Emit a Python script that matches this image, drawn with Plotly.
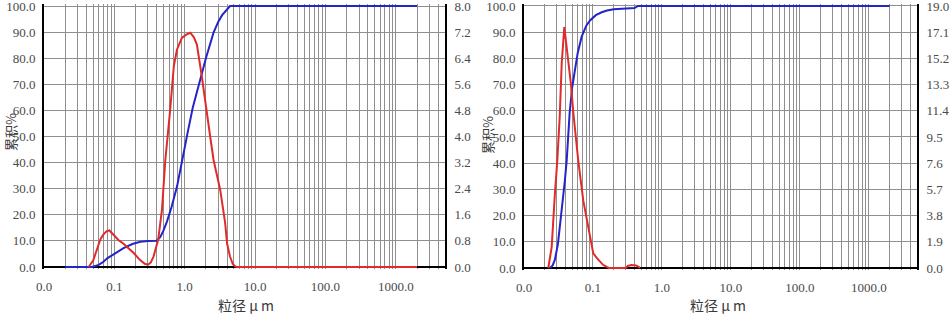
import math
import plotly.graph_objects as go

# ---- particle-size data (sizes in µm) ----
# Sample A
a_cum_size = [0.02, 0.048, 0.06, 0.07, 0.08, 0.1, 0.135, 0.18, 0.234, 0.3, 0.4, 0.45, 0.5, 0.56,
              0.65, 0.78, 0.9, 1.0, 1.1, 1.3, 1.66, 2.0, 2.56, 3.0, 3.4, 4.0, 4.4, 2000]
a_cum_pct = [0, 0, 0.8, 2.0, 3.4, 5.0, 7.2, 8.8, 9.7, 10.0, 10.1, 11.5, 14.0, 17.5,
             23.0, 31.0, 39.0, 45.0, 51.5, 61.0, 72.0, 80.0, 89.7, 94.0, 96.5, 99.0, 100.0, 100.0]

a_diff_size = [0.043, 0.05, 0.057, 0.063, 0.07, 0.078, 0.085, 0.095, 0.105, 0.115, 0.13, 0.15,
               0.19, 0.23, 0.27, 0.30, 0.33, 0.36, 0.42, 0.475, 0.53, 0.62, 0.70, 0.775, 0.91,
               1.05, 1.2, 1.35, 1.49, 1.75, 2.06, 2.3, 2.57, 2.9, 3.19, 3.75, 4.0, 4.4, 4.8,
               5.2, 5.6, 2000]
a_diff_pct = [0, 0.20, 0.56, 0.84, 1.00, 1.10, 1.12, 1.02, 0.90, 0.82, 0.74, 0.62,
              0.42, 0.22, 0.10, 0.07, 0.14, 0.32, 0.84, 1.76, 3.28, 4.80, 6.16, 6.66, 7.02,
              7.12, 7.18, 7.04, 6.82, 5.84, 4.82, 4.00, 3.28, 2.72, 2.37, 1.36, 0.72, 0.32, 0.10,
              0.02, 0, 0]

# Sample B
b_cum_size = [0.0238, 0.026, 0.028, 0.031, 0.033, 0.036, 0.039, 0.0416, 0.046, 0.05, 0.055,
              0.06, 0.0686, 0.08, 0.0906, 0.11, 0.134, 0.16, 0.2, 0.3, 0.4, 0.45, 2000]
b_cum_pct = [0, 1.0, 3.1, 9.0, 15.6, 24.0, 33.0, 41.0, 59.5, 69.0, 76.0,
             82.0, 88.3, 92.5, 94.5, 96.5, 97.6, 98.3, 98.8, 99.0, 99.2, 100.0, 100.0]

b_diff_size = [0.0225, 0.0252, 0.028, 0.0304, 0.033, 0.0352, 0.0384, 0.041, 0.0438, 0.048,
               0.0518, 0.0612, 0.0724, 0.0855, 0.095, 0.101, 0.115, 0.126, 0.14, 0.161, 0.17,
               0.30, 0.32, 0.36, 0.42, 0.46, 0.48, 2000]
b_diff_pct = [0, 1.52, 5.32, 7.79, 11.02, 14.82, 17.48, 16.34, 15.2, 13.3,
              11.3, 7.79, 4.88, 2.96, 1.71, 1.06, 0.70, 0.48, 0.23, 0.06, 0,
              0, 0.15, 0.21, 0.19, 0.08, 0]

# axis labels
x_tick_vals = [0.01, 0.1, 1, 10, 100, 1000]
x_tick_text = ["0.0", "0.1", "1.0", "10.0", "100.0", "1000.0"]
cum_ticks = [0, 10, 20, 30, 40, 50, 60, 70, 80, 90, 100]
a_diff_ticks = [0.0, 0.8, 1.6, 2.4, 3.2, 4.0, 4.8, 5.6, 6.4, 7.2, 8.0]
b_diff_ticks = [0.0, 1.9, 3.8, 5.7, 7.6, 9.5, 11.4, 13.3, 15.2, 17.1, 19.0]

W, H = 951, 326
X_MAX = 5000
PAD = 0.6  # small headroom (in % units) so lines at 0 and 100 are not clipped

RED = "#e02b2b"
BLUE = "#2424c8"
GRID = "#8f8f8f"
TICK_FONT = dict(family="Liberation Serif", size=13, color="#4a4a4a")
CJK_FONT = dict(family="Noto Sans CJK SC", size=14, color="#3a3a3a")
YTITLE_FONT = dict(family="Noto Sans CJK SC", size=13, color="#3a3a3a")

minor_vals = [m * 10 ** e for e in range(-2, 4) for m in range(2, 10) if m * 10 ** e < X_MAX]


def ydomain(top_px, bottom_px):
    per = (bottom_px - top_px) / 100.0
    return [1 - (bottom_px + PAD * per) / H, 1 - (top_px - PAD * per) / H]


fig = go.Figure()
fig.add_trace(go.Scatter(x=a_cum_size, y=a_cum_pct, mode="lines", line=dict(color=BLUE, width=2),
                         xaxis="x", yaxis="y"))
fig.add_trace(go.Scatter(x=a_diff_size, y=a_diff_pct, mode="lines", line=dict(color=RED, width=2),
                         xaxis="x", yaxis="y2"))
fig.add_trace(go.Scatter(x=b_cum_size, y=b_cum_pct, mode="lines", line=dict(color=BLUE, width=2),
                         xaxis="x2", yaxis="y3"))
fig.add_trace(go.Scatter(x=b_diff_size, y=b_diff_pct, mode="lines", line=dict(color=RED, width=2),
                         xaxis="x2", yaxis="y4"))


def xaxis_cfg(left_px, right_px, anchor):
    return dict(
        type="log", range=[-2, math.log10(X_MAX)], domain=[left_px / W, right_px / W],
        anchor=anchor, tickmode="array", tickvals=x_tick_vals, ticktext=x_tick_text,
        showgrid=True, gridcolor=GRID, gridwidth=1, showline=False, ticks="",
        zeroline=False, tickfont=TICK_FONT, ticklabelstandoff=8, ticklabeloverflow="allow",
        minor=dict(tickmode="array", tickvals=minor_vals, showgrid=True,
                   gridcolor=GRID, gridwidth=1, ticks=""),
        layer="below traces",
    )


def ycum_cfg(dom, anchor):
    return dict(
        range=[-PAD, 100 + PAD], domain=dom, anchor=anchor, tickmode="array",
        tickvals=cum_ticks, ticktext=[f"{v:.1f}" for v in cum_ticks],
        showgrid=True, gridcolor=GRID, gridwidth=1.2, showline=True, linecolor="black",
        linewidth=2, ticks="", zeroline=True, zerolinecolor="black", zerolinewidth=2,
        tickfont=TICK_FONT, ticklabelstandoff=4, ticklabeloverflow="allow",
        layer="below traces",
    )


def ydiff_cfg(ticks, overlay, anchor):
    top = ticks[-1]
    pad = PAD * top / 100.0
    return dict(
        range=[-pad, top + pad], overlaying=overlay, side="right", anchor=anchor,
        tickmode="array", tickvals=ticks, ticktext=[f"{v:.1f}" for v in ticks],
        showgrid=False, showline=True, linecolor="black", linewidth=2, ticks="",
        zeroline=False, tickfont=TICK_FONT, ticklabelstandoff=5, ticklabeloverflow="allow",
        layer="below traces",
    )


annotations = []
for cx, cy in ((10, 132), (487, 135)):
    annotations.append(dict(text="累积%", x=cx / W, y=1 - cy / H, xref="paper", yref="paper",
                            showarrow=False, textangle=-90, font=YTITLE_FONT,
                            xanchor="center", yanchor="middle"))
for cx, cy in ((246, 305), (718, 305)):
    annotations.append(dict(text="粒径 μ m", x=cx / W, y=1 - cy / H, xref="paper", yref="paper",
                            showarrow=False, font=CJK_FONT, xanchor="center", yanchor="middle"))

fig.update_layout(
    width=W, height=H, margin=dict(l=0, r=0, t=0, b=0, autoexpand=False),
    paper_bgcolor="white", plot_bgcolor="white", showlegend=False,
    xaxis=xaxis_cfg(44, 445, "y"),
    yaxis=ycum_cfg(ydomain(6, 267), "x"),
    yaxis2=ydiff_cfg(a_diff_ticks, "y", "x"),
    xaxis2=xaxis_cfg(524, 917, "y3"),
    yaxis3=ycum_cfg(ydomain(6, 268), "x2"),
    yaxis4=ydiff_cfg(b_diff_ticks, "y3", "x2"),
    annotations=annotations,
)

fig.write_html("out.html")
